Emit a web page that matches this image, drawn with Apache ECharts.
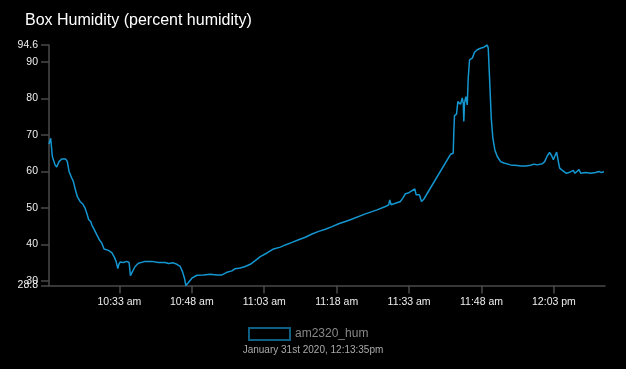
<!DOCTYPE html>
<html>
<head>
<meta charset="utf-8">
<script src="https://cdn.jsdelivr.net/npm/echarts@6/dist/echarts.min.js"></script>
<style>
html,body{margin:0;padding:0;background:#000;}
#chart{width:626px;height:369px;}
</style>
</head>
<body>
<div id="chart"></div>
<script>
// Time in minutes after 10:00, humidity in percent
const times = [
  18.42,18.77,19.11,19.67,20.02,20.49,21.05,21.88,22.22,22.57,
  23.13,23.46,23.81,24.29,24.85,25.41,25.89,26.36,26.65,27.07,
  27.28,27.82,28.31,28.85,29.35,29.83,30.72,31.42,31.90,32.32,
  32.67,32.88,33.15,33.83,34.53,35.01,35.28,35.70,36.26,36.94,
  38.33,39.72,41.09,42.48,43.16,44.20,44.90,45.59,46.07,46.48,
  46.77,47.31,48.01,49.05,50.42,51.81,53.20,54.24,55.27,56.31,
  56.99,58.03,59.07,60.11,61.14,62.18,63.57,64.94,66.33,67.36,
  68.75,70.12,71.51,72.90,74.27,75.66,77.05,78.42,79.81,80.84,
  83.95,86.38,88.10,88.79,88.99,89.28,90.18,91.21,91.69,92.25,
  92.81,93.29,93.64,94.18,94.47,94.88,95.15,95.57,96.04,101.58,
  102.14,102.27,102.41,102.83,103.10,103.45,103.66,104.01,104.22,104.34,
  104.48,104.75,105.05,105.25,105.52,105.73,106.08,106.29,106.56,106.83,
  107.12,107.45,107.80,108.16,108.49,108.84,109.19,109.40,109.73,110.02,
  110.35,110.77,111.27,111.95,112.64,114.02,115.41,116.10,117.14,118.17,
  118.86,119.56,120.60,121.08,121.64,122.11,122.53,122.88,123.21,123.56,
  123.92,124.19,124.46,124.75,125.08,125.58,126.12,126.47,127.03,127.36,
  127.71,128.19,128.54,128.89,129.58,130.61,131.65,132.34,132.83,133.37
];
const humidity = [
  67.5,69.1,64.1,61.8,61.2,62.7,63.4,63.4,62.7,60.0,
  58.2,57.3,55.4,53.1,51.8,51.1,50.0,48.1,46.8,46.3,
  45.4,44.0,42.7,41.3,40.4,38.8,38.4,37.8,36.7,35.4,
  33.4,34.6,35.2,35.1,35.4,35.1,31.5,32.6,34.0,34.9,
  35.4,35.4,35.1,35.1,34.8,35.0,34.6,34.0,32.6,30.8,
  28.8,29.6,30.8,31.6,31.7,31.9,31.7,31.7,32.4,32.8,
  33.4,33.6,34.0,34.6,35.6,36.7,37.7,38.8,39.3,39.9,
  40.6,41.3,42.0,42.9,43.6,44.2,44.9,45.7,46.3,46.8,
  48.4,49.5,50.4,50.9,52.2,50.9,51.3,51.8,52.7,53.9,
  54.1,54.5,54.7,55.2,53.6,53.1,53.6,51.8,52.4,64.7,
  65.0,70.9,75.3,75.7,79.1,79.6,78.4,80.1,78.7,73.7,
  78.7,80.5,78.2,85.5,90.5,91.0,91.0,91.7,92.6,92.8,
  93.3,92.8,93.7,93.3,94.0,93.6,94.6,93.7,83.7,74.6,
  69.1,65.9,64.1,62.7,62.3,61.8,61.6,61.5,61.5,61.7,
  62.0,61.8,62.1,62.7,64.3,65.2,64.3,63.2,64.3,65.3,
  62.7,60.9,61.4,60.3,60.0,59.5,59.7,59.5,60.3,59.5,
  60.0,60.5,59.5,59.5,59.7,59.5,59.7,60.0,59.7,59.9
];
const xTicks = [33, 48, 63, 78, 93, 108, 123];
const xTickLabels = ['10:33 am', '10:48 am', '11:03 am', '11:18 am', '11:33 am', '11:48 am', '12:03 pm'];
const yTicks = [28.8, 40, 50, 60, 70, 80, 90, 94.6];
const yTicksOverlap = [30];
const yMin = 28.8, yMax = 94.6;
const xMin = 18.42, xMax = 133.58;
const seriesName = 'am2320_hum';
const titleText = 'Box Humidity (percent humidity)';
const stampText = 'January 31st 2020, 12:13:35pm';

const chart = echarts.init(document.getElementById('chart'), null, {renderer: 'canvas'});
const axisColor = '#4a4a4a';
const yLabelStyle = {margin: 11, color: '#eee', fontSize: 10.5, fontFamily: 'Liberation Sans',
  hideOverlap: false, showMinLabel: true, showMaxLabel: true,
  formatter: function (v) { return String(v); }};
chart.setOption({
  animation: false,
  backgroundColor: '#000',
  title: [
    {text: titleText, left: 20, top: 8, textStyle: {color: '#fff', fontSize: 16, fontWeight: 'normal', fontFamily: 'Liberation Sans'}},
    {text: stampText, left: 'center', top: 340, textStyle: {color: '#aaa', fontSize: 10, fontWeight: 'normal', fontFamily: 'Liberation Sans'}}
  ],
  legend: {
    left: 243, top: 322,
    itemWidth: 41, itemHeight: 12, itemGap: 10,
    icon: 'rect',
    itemStyle: {color: 'rgba(0,0,0,0)', borderColor: '#0e5f82', borderWidth: 2},
    textStyle: {color: '#888', fontSize: 12, fontFamily: 'Liberation Sans'},
    data: [seriesName]
  },
  grid: {left: 49, right: 21, top: 45, bottom: 83.5, containLabel: false},
  xAxis: {
    type: 'value', min: xMin, max: xMax,
    splitLine: {show: false},
    axisLine: {show: true, lineStyle: {color: axisColor, width: 1.5}},
    axisTick: {show: true, length: 8, customValues: xTicks, lineStyle: {color: axisColor, width: 1.5}},
    axisLabel: {
      customValues: xTicks, margin: 11, color: '#eee', fontSize: 10.5, fontFamily: 'Liberation Sans',
      formatter: function (v) {
        for (let i = 0; i < xTicks.length; i++) if (Math.abs(xTicks[i] - v) < 0.01) return xTickLabels[i];
        return '';
      }
    }
  },
  yAxis: [{
    type: 'value', min: yMin, max: yMax,
    splitLine: {show: false},
    axisLine: {show: true, lineStyle: {color: axisColor, width: 1.5}},
    axisTick: {show: true, length: 8, customValues: yTicks, lineStyle: {color: axisColor, width: 1.5}},
    axisLabel: Object.assign({customValues: yTicks}, yLabelStyle)
  }, {
    type: 'value', min: yMin, max: yMax, position: 'left',
    splitLine: {show: false},
    axisLine: {show: false},
    axisTick: {show: true, length: 8, customValues: yTicksOverlap, lineStyle: {color: axisColor, width: 1.5}},
    axisLabel: Object.assign({customValues: yTicksOverlap}, yLabelStyle)
  }],
  series: [{
    name: seriesName,
    type: 'line',
    yAxisIndex: 0,
    showSymbol: false,
    symbol: 'none',
    data: times.map((t, i) => [t, humidity[i]]),
    lineStyle: {color: '#1496d0', width: 1.5},
    itemStyle: {color: '#1496d0'}
  }]
});
</script>
</body>
</html>
